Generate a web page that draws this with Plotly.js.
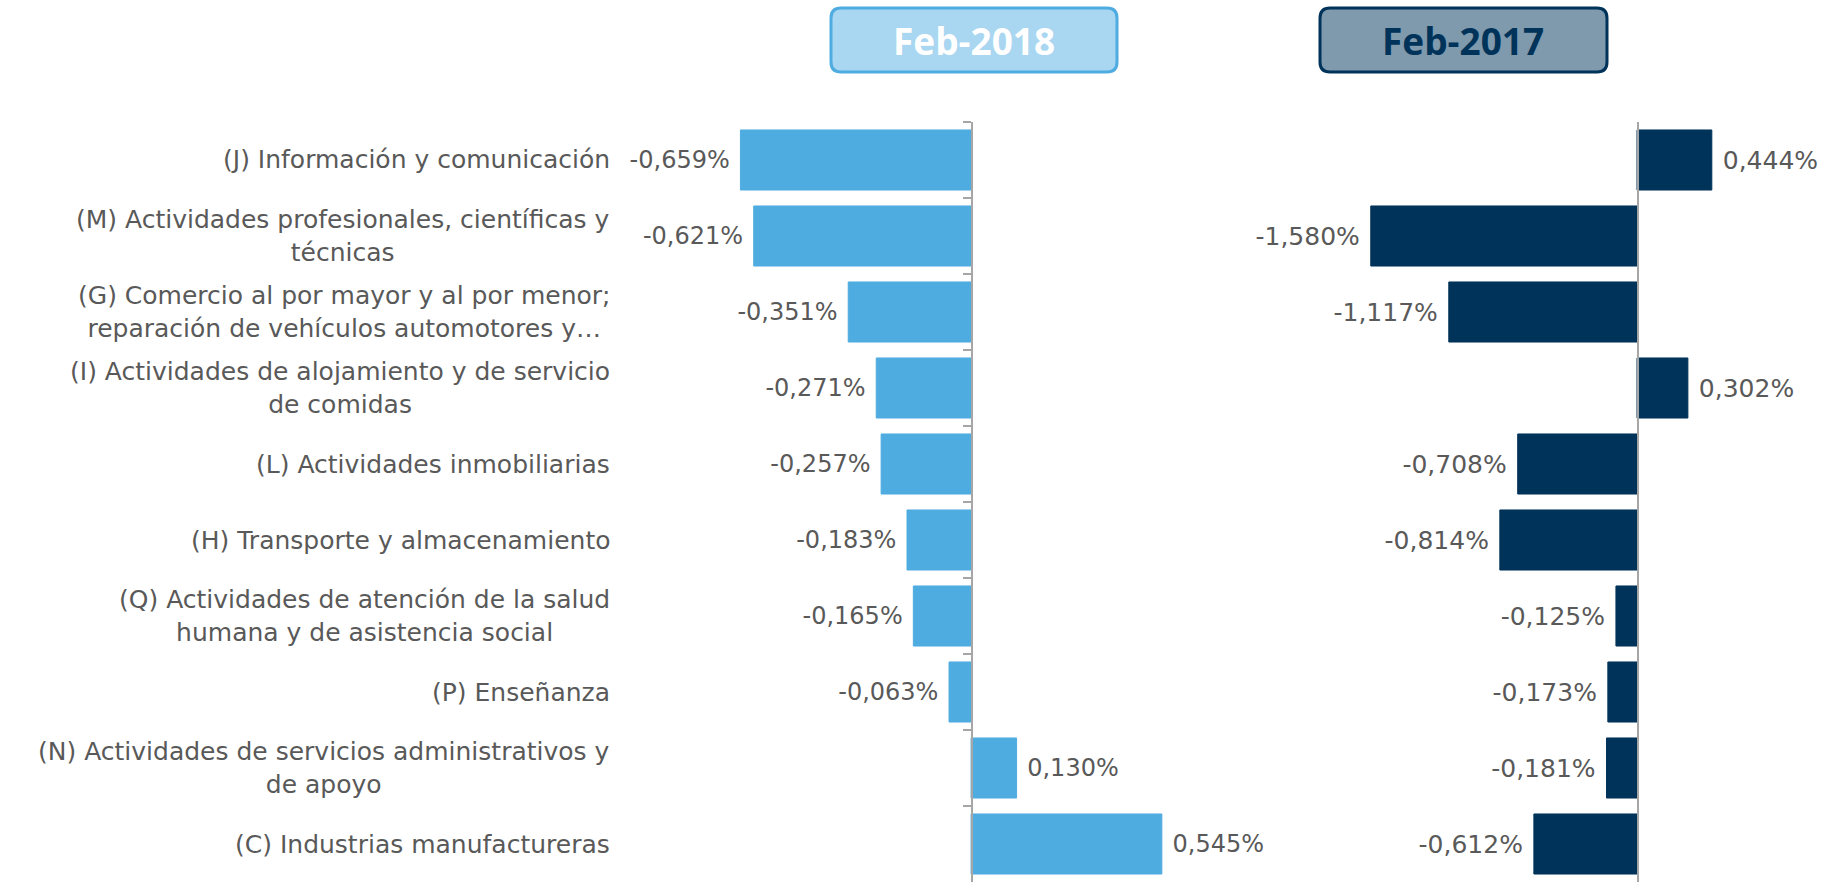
<!DOCTYPE html>
<html>
<head>
<meta charset="utf-8">
<script src="https://cdn.plot.ly/plotly-3.0.1.min.js"></script>
<style>html,body{margin:0;padding:0;background:#fff;}#chart{width:1836px;height:882px;}</style>
</head>
<body>
<div id="chart"></div>
<script>
const categories = [
  "(J) Información y comunicación",
  "(M) Actividades profesionales, científicas y<br>técnicas",
  "(G) Comercio al por mayor y al por menor;<br>reparación de vehículos automotores y…",
  "(I) Actividades de alojamiento y de servicio<br>de comidas",
  "(L) Actividades inmobiliarias",
  "(H) Transporte y almacenamiento",
  "(Q) Actividades de atención de la salud<br>humana y de asistencia social",
  "(P) Enseñanza",
  "(N) Actividades de servicios administrativos y<br>de apoyo",
  "(C) Industrias manufactureras"
];
const feb2018 = [-0.659, -0.621, -0.351, -0.271, -0.257, -0.183, -0.165, -0.063, 0.130, 0.545];
const feb2017 = [0.444, -1.580, -1.117, 0.302, -0.708, -0.814, -0.125, -0.173, -0.181, -0.612];
const seriesNames = ["Feb-2018", "Feb-2017"];

const W = 1836, H = 882;
const px = x => x / W;
const py = y => (H - y) / H;

const font = "DejaVu Sans, sans-serif";
const gray = "#595959";
const pad = "\u00A0";
const tmpl = vals => vals.map(v => v < 0 ? "%{x:.3f}%" + pad : pad + "%{x:.3f}%");

const trace1 = {
  type: "bar", orientation: "h", name: seriesNames[0],
  x: feb2018, y: categories, xaxis: "x", yaxis: "y",
  marker: {color: "#4FACE0", line: {color: "#4FACE0", width: 1}},
  texttemplate: tmpl(feb2018), textposition: "outside",
  textfont: {family: font, size: 24, color: gray},
  cliponaxis: false, hoverinfo: "skip"
};
const trace2 = {
  type: "bar", orientation: "h", name: seriesNames[1],
  x: feb2017, y: categories, xaxis: "x2", yaxis: "y2",
  marker: {color: "#003359", line: {color: "#003359", width: 1}},
  texttemplate: tmpl(feb2017), textposition: "outside",
  textfont: {family: font, size: 25, color: gray},
  cliponaxis: false, hoverinfo: "skip"
};

function roundRect(x0, y0, x1, y1, r) {
  const rx = r / W, ry = r / H;
  const X0 = px(x0), X1 = px(x1), Y0 = py(y0), Y1 = py(y1);
  return `M ${X0+rx},${Y0} L ${X1-rx},${Y0} Q ${X1},${Y0} ${X1},${Y0-ry} ` +
         `L ${X1},${Y1+ry} Q ${X1},${Y1} ${X1-rx},${Y1} L ${X0+rx},${Y1} ` +
         `Q ${X0},${Y1} ${X0},${Y1+ry} L ${X0},${Y0-ry} Q ${X0},${Y0} ${X0+rx},${Y0} Z`;
}

const yDomain = [0, py(122)];
const catAxis = {
  type: "category", autorange: "reversed", domain: yDomain,
  showticklabels: false, showgrid: false, zeroline: false,
  showline: true, linecolor: "#A6A6A6", linewidth: 1.5
};

const labelAnnotations = categories.map(c => ({
  xref: "paper", yref: "y", x: px(612), y: c,
  xanchor: "right", yanchor: "middle", align: "center",
  text: c, showarrow: false,
  font: {family: font, size: 25, color: gray}
}));

const layout = {
  width: W, height: H,
  margin: {l: 0, r: 0, t: 0, b: 0},
  paper_bgcolor: "#ffffff", plot_bgcolor: "rgba(0,0,0,0)",
  showlegend: false,
  separators: ",.",
  bargap: 0.21,
  xaxis: {domain: [px(620), px(1200)], range: [-1.003, 0.654], anchor: "y",
          showgrid: false, zeroline: false, showticklabels: false, showline: false, fixedrange: true},
  xaxis2: {domain: [px(1300), 1], range: [-2.0, 1.181], anchor: "y2",
           showgrid: false, zeroline: false, showticklabels: false, showline: false, fixedrange: true},
  yaxis: Object.assign({}, catAxis, {anchor: "free", position: px(971),
          ticks: "outside", tickson: "boundaries", ticklen: 8, tickcolor: "#A6A6A6", tickwidth: 1.5}),
  yaxis2: Object.assign({}, catAxis, {anchor: "free", position: px(1637), ticks: ""}),
  shapes: [
    {type: "path", xref: "paper", yref: "paper", path: roundRect(831, 8, 1117, 72, 10),
     fillcolor: "#A9D6F0", line: {color: "#4FACE0", width: 3}},
    {type: "path", xref: "paper", yref: "paper", path: roundRect(1320, 8, 1607, 72, 10),
     fillcolor: "#7F99AD", line: {color: "#003359", width: 3}}
  ],
  annotations: labelAnnotations.concat([
    {xref: "paper", yref: "paper", x: px(974), y: py(40), xanchor: "center", yanchor: "middle",
     text: "<b>" + seriesNames[0] + "</b>", showarrow: false,
     font: {family: "Open Sans, sans-serif", size: 37, color: "#ffffff"}},
    {xref: "paper", yref: "paper", x: px(1463), y: py(40), xanchor: "center", yanchor: "middle",
     text: "<b>" + seriesNames[1] + "</b>", showarrow: false,
     font: {family: "Open Sans, sans-serif", size: 37, color: "#003359"}}
  ])
};

Plotly.newPlot("chart", [trace1, trace2], layout, {displayModeBar: false, staticPlot: true});
</script>
</body>
</html>
